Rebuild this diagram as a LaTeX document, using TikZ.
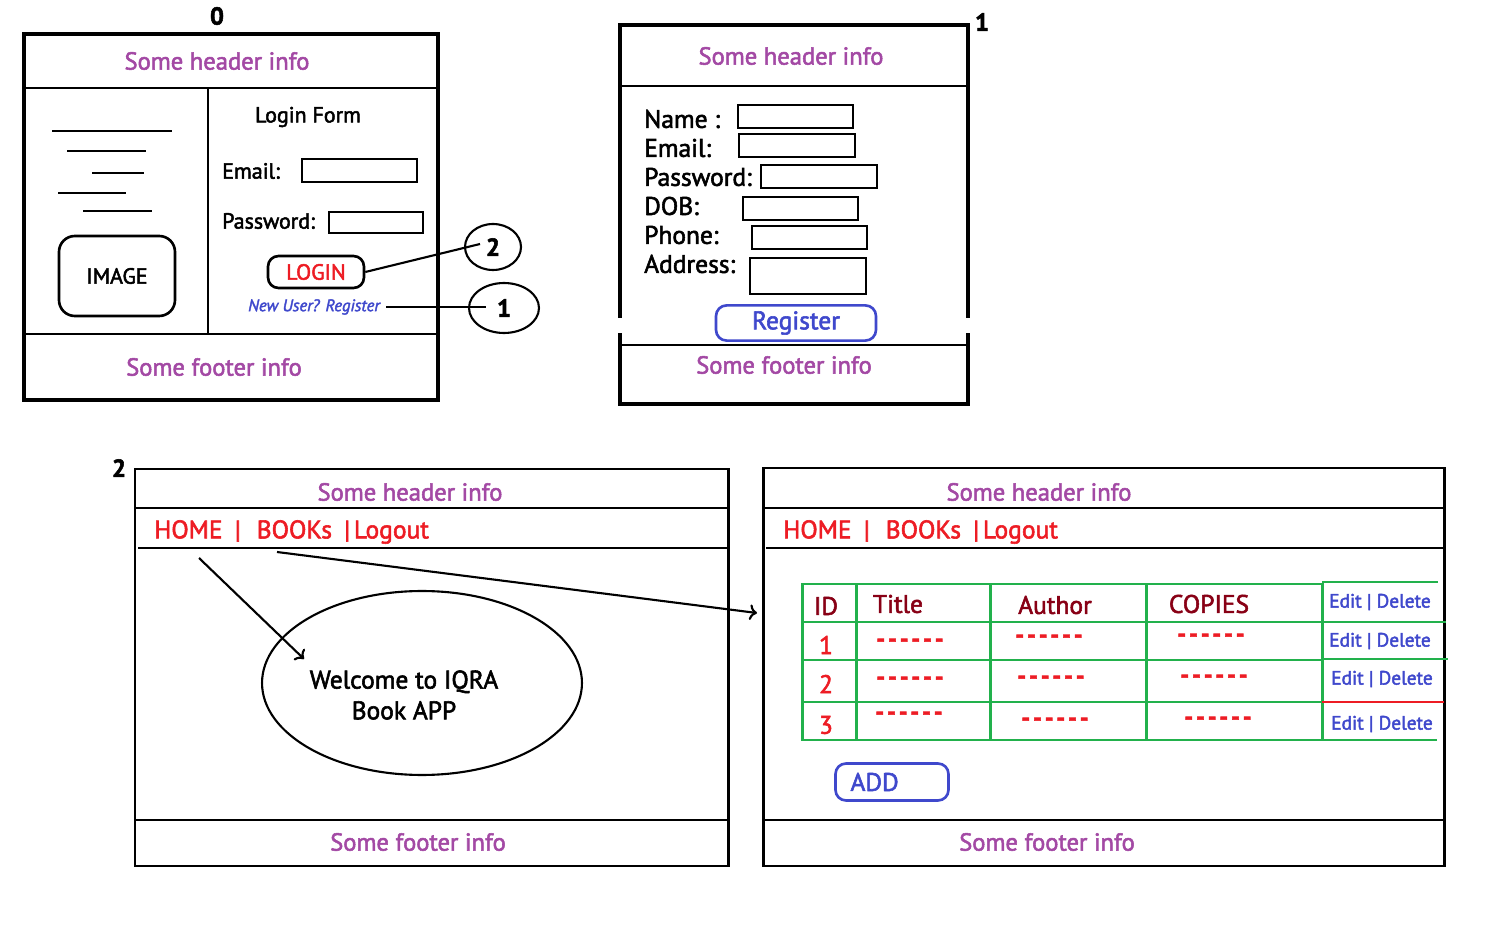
\documentclass[tikz,border=0pt]{standalone}
\usepackage{fontspec}
\setmainfont{PT Sans}[FakeBold=2.2]
\usetikzlibrary{shapes.geometric}
\usetikzlibrary{arrows.meta}

\definecolor{paintpurple}{HTML}{A349A4}
\definecolor{paintred}{HTML}{ED1C24}
\definecolor{paintblue}{HTML}{3F48CC}
\definecolor{paintgreen}{HTML}{22B14C}
\definecolor{paintmaroon}{HTML}{880015}

\newcommand{\celldashes}{-\kern1.6pt-\kern1.6pt-\kern1.6pt-\kern1.6pt-\kern1.6pt-}
\newcommand{\navbar}{HOME\hspace{7pt}|\hspace{9pt}BOOKs\hspace{7pt}|\hspace{2pt}Logout}

\tikzset{
  info/.style={text=paintpurple, font=\fontsize{14}{16}\selectfont},
  tag/.style={font=\fontsize{14}{16}\selectfont\bfseries},
  formtext/.style={font=\fontsize{12.5}{15}\selectfont},
  bigtext/.style={font=\fontsize{14.5}{17.5}\selectfont},
  navtext/.style={text=paintred, font=\fontsize{14.5}{16}\selectfont, anchor=west},
  fieldbox/.style={draw, line width=0.6pt},
  bluebtn/.style={draw=paintblue, text=paintblue, line width=1.5pt, rounded corners=6pt},
  grid/.style={draw=paintgreen, line width=1.7pt},
  cellhead/.style={text=paintmaroon, font=\fontsize{14.5}{16}\selectfont},
  cellnum/.style={text=paintred, font=\fontsize{14.5}{16}\selectfont},
  celldash/.style={text=paintred, font=\fontsize{14}{16}\selectfont\bfseries},
  action/.style={text=paintblue, font=\fontsize{11}{13}\selectfont},
  bubble/.style={draw, ellipse, line width=1.2pt, font=\fontsize{14}{16}\selectfont\bfseries},
  pointer/.style={line width=1.2pt}
}

\begin{document}
\begin{tikzpicture}[x=0.02cm, y=-0.02cm]

    \useasboundingbox (0,0) rectangle (1498,935);

    % screen 0: login
    \draw[line width=2.3pt] (24,34) rectangle (438,400);
    \draw[line width=1.7pt] (24,88) -- (438,88) (24,334) -- (438,334) (208,88) -- (208,334);
    \node[tag] (tag0) at (217,16) {0};
    \node[info] (head0) at (217,61) {Some header info};
    \node[info] (foot0) at (214,367) {Some footer info};
    \foreach \xa/\xb/\y in {52/172/131, 67/146/151, 92/144/173, 58/126/193, 83/152/211}
      \draw[line width=1.2pt] (\xa,\y) -- (\xb,\y);
    \node[draw, line width=1.5pt, rounded corners=9pt, minimum width=2.32cm, minimum height=1.6cm,
          formtext] (image) at (117,276) {IMAGE};
    \node[formtext] (loginform) at (308,117) {Login Form};
    \node[formtext, anchor=west] (email0) at (216,171) {Email:};
    \node[fieldbox, minimum width=2.3cm, minimum height=0.46cm] (emailbox0) at (359.5,170.5) {};
    \node[formtext, anchor=west] (pass0) at (216,221) {Password:};
    \node[fieldbox, minimum width=1.88cm, minimum height=0.42cm] (passbox0) at (376,222.5) {};
    \node[draw, line width=1.5pt, rounded corners=6pt, minimum width=1.92cm, minimum height=0.64cm,
          text=paintred, formtext] (login) at (316,272) {LOGIN\hspace{0.2cm}};
    \node[text=paintblue, font=\fontsize{9.5}{11}\selectfont\itshape] (newuser) at (314,307) {New User? Register};
    \node[bubble, minimum width=1.12cm, minimum height=0.92cm] (bub2) at (493,247) {2};
    \node[bubble, minimum width=1.4cm, minimum height=1.0cm] (bub1) at (504,308) {1};
    \coordinate (in2) at (480,244);
    \coordinate (in1) at (486,307);
    \draw[pointer] (login.east) -- (in2);
    \draw[pointer] (newuser.east) -- (in1);

    % screen 1: register
    \draw[line width=2.3pt] (620,25) rectangle (968,404);
    \draw[line width=1.7pt] (620,86) -- (968,86) (620,345) -- (968,345);
    \fill[white] (616,318) rectangle (623,333);
    \fill[white] (965,318) rectangle (972,333);
    \node[tag] (tag1) at (982,22) {1};
    \node[info] (head1) at (791,56) {Some header info};
    \node[info] (foot1) at (784,365) {Some footer info};
    \foreach \lbl/\y in {Name :/119, Email:/148, Password:/177, DOB:/206, Phone:/235, Address:/264}
      \node[bigtext, anchor=west] at (638,\y) {\lbl};
    \foreach \xa/\ya/\xb/\yb in {738/105/853/128, 739/134/855/157, 761/165/877/188,
                                 743/197/858/220, 752/226/867/249, 750/258/866/294}
      \draw[line width=0.6pt] (\xa,\ya) rectangle (\xb,\yb);
    \node[bluebtn, minimum width=3.2cm, minimum height=0.58cm, bigtext] (register) at (796,323) {Register\hspace{0.45cm}};

    % screen 2: home
    \draw[line width=1.7pt] (135,469) rectangle (728,866);
    \draw[line width=1.7pt] (135,508) -- (730,508) (138,548) -- (728,548) (135,820) -- (730,820);
    \node[tag] (tag2) at (119,468) {2};
    \node[info] (head2) at (410,492) {Some header info};
    \node[navtext] (nav2) at (148,532) {\navbar};
    \node[info] (foot2) at (418,842) {Some footer info};
    \node[draw, ellipse, line width=1.2pt, minimum width=6.4cm, minimum height=3.68cm] (welcome) at (422,683) {};
    \node[align=center, bigtext] (welcometext) at (404,695) {Welcome to IQRA\\Book APP};
    \coordinate (homeout) at (199,558);
    \coordinate (welcomein) at (304,659);
    \coordinate (booksout) at (277,552);
    \coordinate (tablein) at (757,613);
    \draw[pointer, ->] (homeout) -- (welcomein);
    \draw[pointer, ->] (booksout) -- (tablein);

    % screen 3: books
    \draw[line width=1.7pt] (763,468) rectangle (1444,866);
    \draw[line width=1.7pt] (763,508) -- (1446,508) (766,548) -- (1446,548) (763,820) -- (1446,820);
    \node[info] (head3) at (1039,492) {Some header info};
    \node[navtext] (nav3) at (777,532) {\navbar};
    \node[info] (foot3) at (1047,842) {Some footer info};

    % the table
    \draw[grid] (802,584) rectangle (1322,740);
    \foreach \x in {856, 990, 1146}
      \draw[grid] (\x,584) -- (\x,740);
    \foreach \y in {622, 660, 702}
      \draw[grid] (802,\y) -- (1322,\y);
    \draw[grid] (1322,582) -- (1438,582) (1322,622) -- (1446,622) (1322,659) -- (1448,659)
                (1322,740) -- (1437,740);
    \draw[paintred, line width=1.7pt] (1322,702) -- (1444,702);
    \node[cellhead] (colid) at (826,606) {ID};
    \node[cellhead] (coltitle) at (898,604) {Title};
    \node[cellhead] (colauthor) at (1055,605) {Author};
    \node[cellhead] (colcopies) at (1209,604) {COPIES};
    \foreach \n/\y in {1/645, 2/684, 3/725}
      \node[cellnum] (row\n) at (826,\y) {\n};
    \foreach \x/\y in {910/643, 1049/639, 1211/638, 910/681, 1051/680, 1214/679,
                       909/716, 1055/722, 1218/721}
      \node[celldash] at (\x,\y) {\celldashes};
    \foreach \x/\y in {1380/602, 1380/641, 1382/679, 1382/724}
      \node[action] at (\x,\y) {Edit | Delete};
    \node[bluebtn, minimum height=0.74cm, text width=1.66cm, inner xsep=0.3cm, align=left,
          bigtext] (add) at (892,782) {ADD};

\end{tikzpicture}
\end{document}
